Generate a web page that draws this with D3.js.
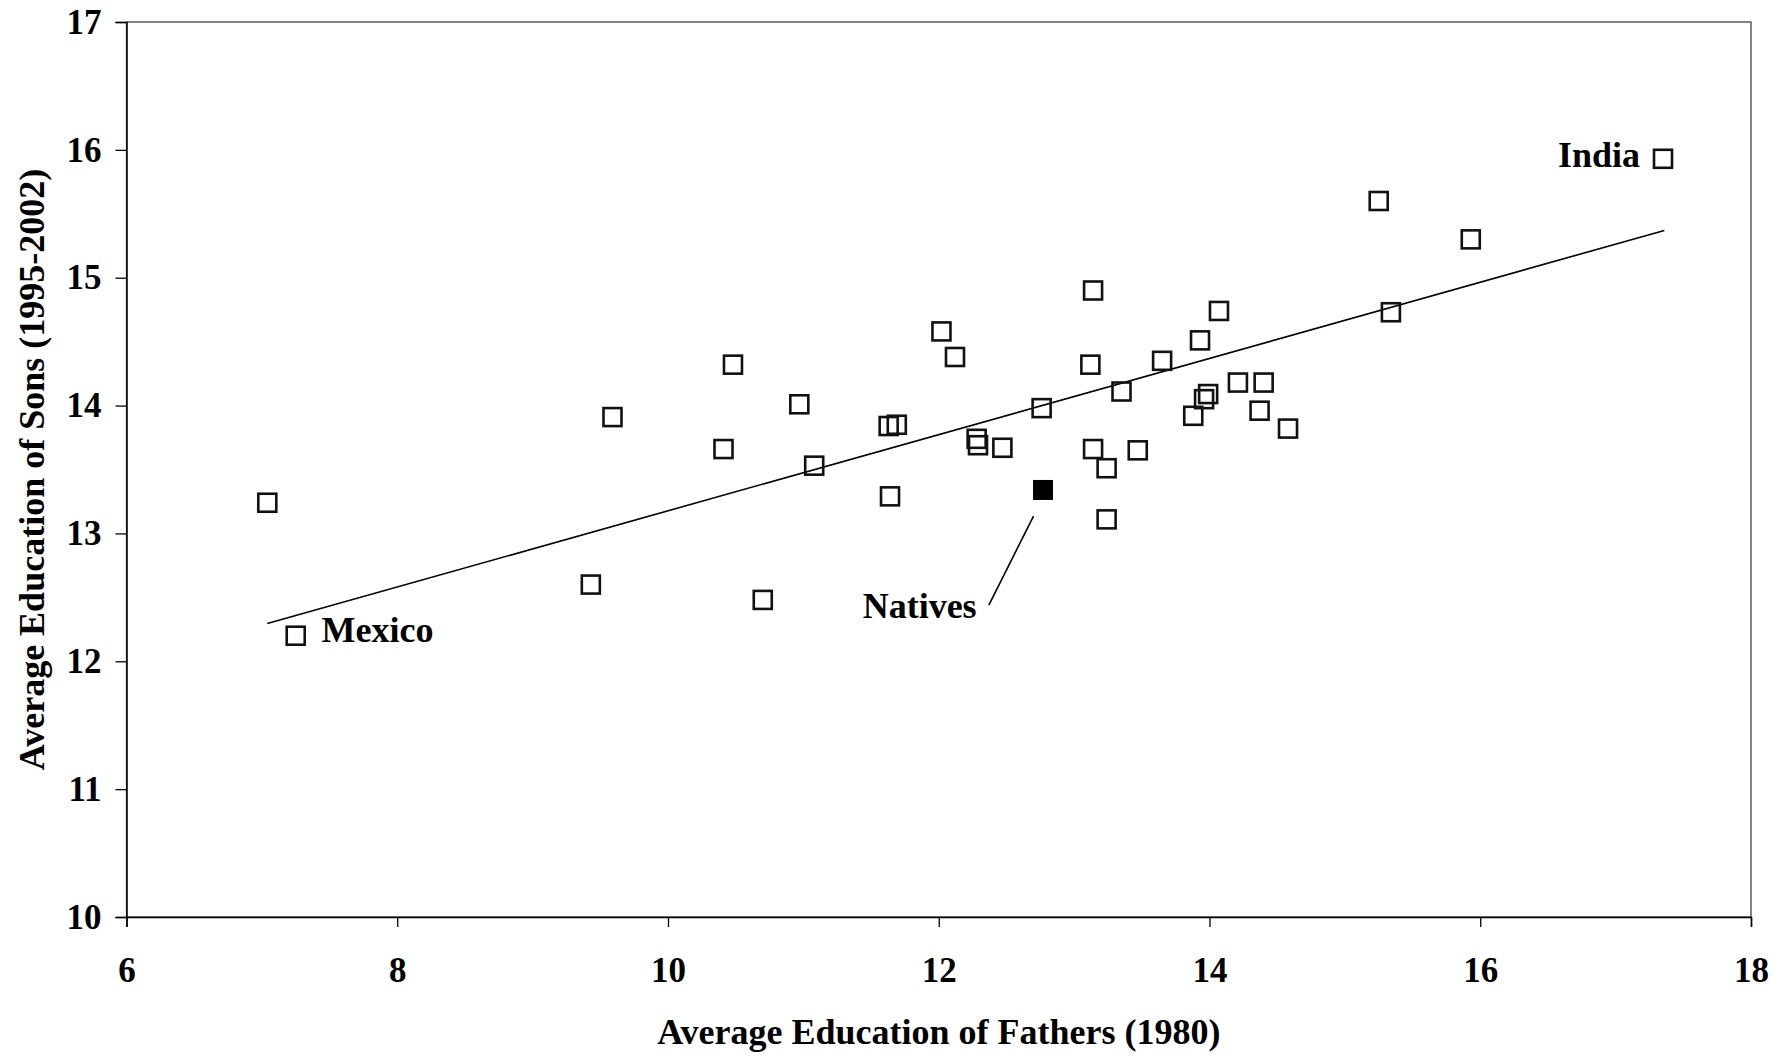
<!DOCTYPE html>
<html>
<head>
<meta charset="utf-8">
<script src="https://cdn.jsdelivr.net/npm/d3@7"></script>
<style>
  body { margin: 0; background: #fff; }
  text { font-family: "Liberation Serif", "DejaVu Serif", serif; font-weight: bold; fill: #000; }
</style>
</head>
<body>
<div id="app"></div>
<script>
// average education of fathers (1980) and sons (1995-2002), one square per group
const fathersEdu = [7.04, 7.25, 9.43, 9.59, 10.41, 10.48, 10.70, 10.97, 11.08, 11.63,
  11.69, 11.64, 12.02, 12.12, 12.28, 12.29, 12.47, 12.76, 13.14, 13.12,
  13.14, 13.24, 13.24, 13.35, 13.47, 13.65, 13.88, 13.93, 13.96, 13.99,
  14.07, 14.21, 14.37, 14.40, 14.58, 15.25, 15.34, 15.93, 17.35]
const sonsEdu = [13.24, 12.20, 12.60, 13.91, 13.66, 14.32, 12.48, 14.01, 13.53, 13.84,
  13.85, 13.29, 14.58, 14.38, 13.74, 13.69, 13.67, 13.98, 14.90, 14.32,
  13.66, 13.51, 13.11, 14.11, 13.65, 14.35, 13.92, 14.51, 14.05, 14.09,
  14.74, 14.18, 13.96, 14.18, 13.82, 15.60, 14.73, 15.30, 15.93]

// natives, drawn filled
const nativesX = 12.77
const nativesY = 13.34

// fitted line, ends
const trendX = [7.04, 17.36]
const trendY = [12.295, 15.37]

const xTicks = [6, 8, 10, 12, 14, 16, 18]
const yTicks = [10, 11, 12, 13, 14, 15, 16, 17]

const W = 1789, H = 1057
const margin = {top: 22, right: 38, bottom: 140, left: 126.5}
const w = W - margin.left - margin.right
const h = H - margin.top - margin.bottom

const svg = d3.select('#app').append('svg').attr('width', W).attr('height', H)
const g = svg.append('g').attr('transform', `translate(${margin.left},${margin.top})`)

const x = d3.scaleLinear().domain([6, 18]).range([0, w])
const y = d3.scaleLinear().domain([10, 17]).range([h, 0])

// frame
g.append('rect').attr('width', w).attr('height', h)
  .attr('fill', 'none').attr('stroke', '#333').attr('stroke-width', 1.2)

const xAxis = g.append('g').attr('transform', `translate(0,${h})`)
  .call(d3.axisBottom(x).tickValues(xTicks).tickSize(10).tickPadding(30).tickFormat(d3.format('d')))
const yAxis = g.append('g')
  .call(d3.axisLeft(y).tickValues(yTicks).tickSize(11).tickPadding(14).tickFormat(d3.format('d')))

;[xAxis, yAxis].forEach(a => {
  a.select('.domain').attr('stroke', '#000').attr('stroke-width', 1.5)
  a.selectAll('.tick line').attr('stroke', '#000').attr('stroke-width', 1.3)
  a.selectAll('.tick text').style('font-family', '"Liberation Serif", serif')
    .style('font-weight', 'bold').style('font-size', '35px').attr('fill', '#000')
})

// trend line
g.append('line')
  .attr('x1', x(trendX[0])).attr('y1', y(trendY[0]))
  .attr('x2', x(trendX[1])).attr('y2', y(trendY[1]))
  .attr('stroke', '#000').attr('stroke-width', 1.6)

const s = 18
g.selectAll('rect.pt').data(fathersEdu).enter().append('rect')
  .attr('class', 'pt')
  .attr('x', (d) => x(d) - s / 2)
  .attr('y', (d, i) => y(sonsEdu[i]) - s / 2)
  .attr('width', s).attr('height', s)
  .attr('fill', 'none').attr('stroke', '#111').attr('stroke-width', 2.6)

g.append('rect')
  .attr('x', x(nativesX) - s / 2 - 1).attr('y', y(nativesY) - s / 2 - 1)
  .attr('width', s + 2).attr('height', s + 2).attr('fill', '#000')

// leader line for natives
g.append('line')
  .attr('x1', x(12.70)).attr('y1', y(13.135))
  .attr('x2', x(12.37)).attr('y2', y(12.44))
  .attr('stroke', '#000').attr('stroke-width', 1.6)

const labels = [
  {text: 'Mexico', x: 7.44, y: 12.149, anchor: 'start'},
  {text: 'Natives', x: 12.28, y: 12.337, anchor: 'end'},
  {text: 'India', x: 17.18, y: 15.863, anchor: 'end'}
]
g.selectAll('text.lbl').data(labels).enter().append('text')
  .attr('class', 'lbl')
  .attr('x', (d) => x(d.x)).attr('y', (d) => y(d.y))
  .attr('text-anchor', (d) => d.anchor)
  .style('font-size', '36px')
  .text((d) => d.text)

svg.append('text')
  .attr('x', margin.left + w / 2).attr('y', 1044)
  .attr('text-anchor', 'middle').style('font-size', '36px')
  .text('Average Education of Fathers (1980)')

svg.append('text')
  .attr('transform', `translate(44,${margin.top + h / 2}) rotate(-90)`)
  .attr('text-anchor', 'middle').style('font-size', '36px')
  .text('Average Education of Sons (1995-2002)')
</script>
</body>
</html>
